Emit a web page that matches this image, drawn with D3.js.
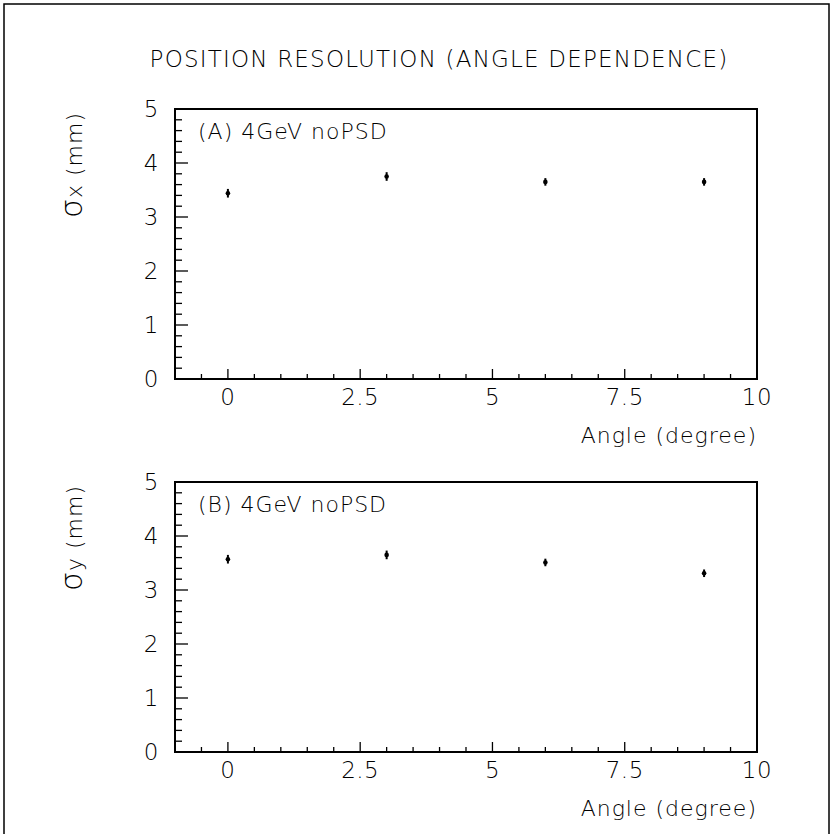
<!DOCTYPE html>
<html>
<head>
<meta charset="utf-8">
<script src="https://cdn.jsdelivr.net/npm/d3@7"></script>
<style>
  body { margin: 0; background: #fff; }
  svg text { font-family: "DejaVu Sans", sans-serif; font-weight: 200; fill: #000; }
</style>
</head>
<body>
<div id="chart"></div>
<script>
// data
const angles = [0, 3, 6, 9];
const sigmaX = [3.44, 3.75, 3.65, 3.65];
const sigmaXErr = [0.08, 0.08, 0.07, 0.07];
const sigmaY = [3.57, 3.65, 3.51, 3.31];
const sigmaYErr = [0.08, 0.08, 0.07, 0.07];
const xTickLabels = ['0', '2.5', '5', '7.5', '10'];
const yTickLabels = ['0', '1', '2', '3', '4', '5'];

const width = 832, height = 834;

const svg = d3.select('#chart').append('svg')
  .attr('width', width)
  .attr('height', height);

// outer frame
svg.append('rect')
  .attr('x', 4).attr('y', 4)
  .attr('width', 825).attr('height', 840)
  .attr('fill', 'none')
  .attr('stroke', '#000')
  .attr('stroke-width', 1.5);

svg.append('text')
  .attr('x', 439).attr('y', 67)
  .attr('text-anchor', 'middle')
  .style('font-size', '23px')
  .style('letter-spacing', '1.2px')
  .text('POSITION RESOLUTION (ANGLE DEPENDENCE)');

function drawPanel(top, values, errs, label, sub) {
  const left = 175, right = 757, bottom = top + 270;
  const x = d3.scaleLinear().domain([-1, 10]).range([left, right]);
  const y = d3.scaleLinear().domain([0, 5]).range([bottom, top]);
  const g = svg.append('g');

  // minor / major ticks, drawn inward
  const xMinor = d3.range(-0.5, 10, 0.5);
  g.selectAll('.xt').data(xMinor).enter().append('line')
    .attr('x1', d => x(d)).attr('x2', d => x(d))
    .attr('y1', bottom)
    .attr('y2', d => bottom - (Math.abs(d / 2.5 - Math.round(d / 2.5)) < 1e-6 ? 10 : 5))
    .attr('stroke', '#000').attr('stroke-width', 1.3);

  const yMinor = d3.range(0.2, 5, 0.2);
  g.selectAll('.yt').data(yMinor).enter().append('line')
    .attr('x1', left)
    .attr('x2', d => left + (Math.abs(d - Math.round(d)) < 1e-6 ? 13 : 7))
    .attr('y1', d => y(d)).attr('y2', d => y(d))
    .attr('stroke', '#000').attr('stroke-width', 1.3);

  // axes box
  g.append('rect')
    .attr('x', left).attr('y', top)
    .attr('width', right - left).attr('height', bottom - top)
    .attr('fill', 'none')
    .attr('stroke', '#000').attr('stroke-width', 2);

  // tick labels
  g.selectAll('.xl').data(xTickLabels).enter().append('text')
    .attr('x', d => x(+d)).attr('y', bottom + 26)
    .attr('text-anchor', 'middle')
    .style('font-size', '23px')
    .style('letter-spacing', '0.5px')
    .text(d => d);

  g.selectAll('.yl').data(yTickLabels).enter().append('text')
    .attr('x', 151).attr('y', d => y(+d) + 8)
    .attr('text-anchor', 'middle')
    .style('font-size', '23px')
    .text(d => d);

  g.append('text')
    .attr('x', right).attr('y', bottom + 64)
    .attr('text-anchor', 'end')
    .style('font-size', '22px')
    .style('letter-spacing', '1px')
    .text('Angle (degree)');

  // y title: big sigma + subscript letter + units
  const yt = g.append('text')
    .attr('transform', `translate(82,${top + 3}) rotate(-90)`)
    .attr('text-anchor', 'end')
    .style('font-size', '22px')
    .style('letter-spacing', '1px');
  yt.append('tspan').style('font-size', '30px').text('σ');
  yt.append('tspan').text(sub + ' (mm)');

  g.append('text')
    .attr('x', 198).attr('y', top + 30)
    .style('font-size', '22px')
    .style('letter-spacing', '1px')
    .text(label);

  // error bars and markers
  const pts = angles.map((a, i) => ({ a, v: values[i], e: errs[i] }));
  g.selectAll('.eb').data(pts).enter().append('line')
    .attr('x1', d => x(d.a)).attr('x2', d => x(d.a))
    .attr('y1', d => y(d.v - d.e)).attr('y2', d => y(d.v + d.e))
    .attr('stroke', '#000').attr('stroke-width', 2);
  g.selectAll('.pt').data(pts).enter().append('circle')
    .attr('cx', d => x(d.a)).attr('cy', d => y(d.v))
    .attr('r', 2.3)
    .attr('fill', '#000');
}

drawPanel(109, sigmaX, sigmaXErr, '(A) 4GeV noPSD', 'x');
drawPanel(482, sigmaY, sigmaYErr, '(B) 4GeV noPSD', 'y');
</script>
</body>
</html>
